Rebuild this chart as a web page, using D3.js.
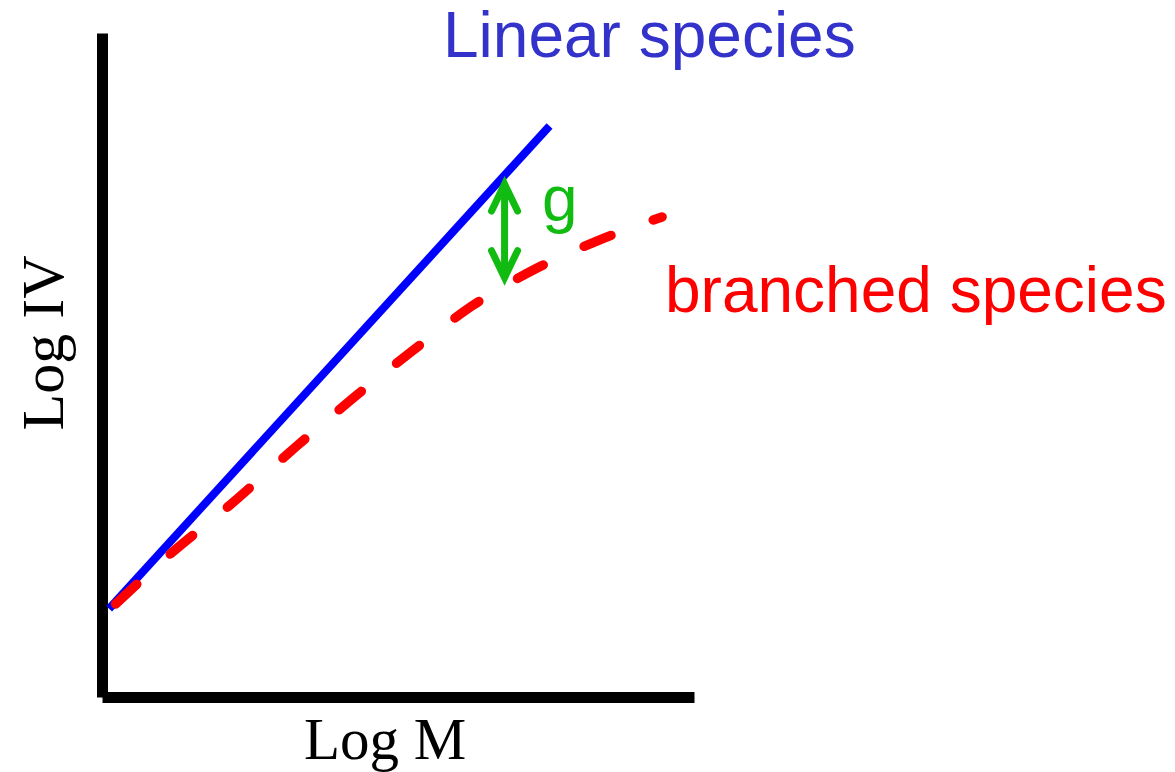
<!DOCTYPE html>
<html>
<head>
<meta charset="utf-8">
<script src="https://cdn.jsdelivr.net/npm/d3@7"></script>
<style>
  html, body { margin: 0; padding: 0; background: #fff; }
  svg { display: block; }
</style>
</head>
<body>
<svg id="chart" width="1175" height="772"></svg>
<script>
// Schematic: log intrinsic viscosity vs log molar mass, linear vs branched
const linearX = [0.12, 7.56];
const linearY = [1.33, 8.60];

const branchedX = [0.23, 1.11, 2.16, 3.29, 4.24, 5.24, 6.25, 7.35, 8.48, 9.46];
const branchedY = [1.40, 2.12, 2.89, 3.78, 4.50, 5.21, 5.89, 6.46, 6.91, 7.23];

// contraction gap marker g (x position, top on linear, bottom on branched)
const gapX = [6.80];
const gapTop = [7.86];
const gapBottom = [6.18];

const labels = {
  linear: "Linear species",
  branched: "branched species",
  gap: "g",
  xAxis: "Log M",
  yAxis: "Log IV"
};

const svg = d3.select("#chart");

const x = d3.scaleLinear().domain([0, 10]).range([102, 694]);
const y = d3.scaleLinear().domain([0, 10]).range([697, 33]);

// axes: bare thick lines, no ticks
const yAxis = svg.append("g")
  .attr("transform", `translate(${x(0)},0)`)
  .call(d3.axisLeft(y).tickValues([]).tickSizeOuter(0));
const xAxis = svg.append("g")
  .attr("transform", `translate(0,${y(0)})`)
  .call(d3.axisBottom(x).tickValues([]).tickSizeOuter(0));
[yAxis, xAxis].forEach(a => a.select(".domain")
  .attr("stroke", "#000")
  .attr("stroke-width", 11)
  .attr("stroke-linecap", "butt"));

const line = d3.line().x(d => x(d[0])).y(d => y(d[1]));

// linear species: straight solid line
svg.append("path")
  .datum(d3.zip(linearX, linearY))
  .attr("d", line)
  .attr("fill", "none")
  .attr("stroke", "#0000ff")
  .attr("stroke-width", 8)
  .attr("stroke-linecap", "butt");

// branched species: bending dashed curve
svg.append("path")
  .datum(d3.zip(branchedX, branchedY))
  .attr("d", line.curve(d3.curveMonotoneX))
  .attr("fill", "none")
  .attr("stroke", "#ff0000")
  .attr("stroke-width", 9.5)
  .attr("stroke-linecap", "round")
  .attr("stroke-dasharray", "29,45");

// double-headed arrow for g; heads pulled in so the points touch the lines
const green = "#11bb11";
const inset = 9;
const ax = x(gapX[0]), at = y(gapTop[0]) + inset, ab = y(gapBottom[0]) - inset;
const arrow = svg.append("g")
  .attr("fill", "none")
  .attr("stroke", green)
  .attr("stroke-width", 7)
  .attr("stroke-linecap", "round")
  .attr("stroke-linejoin", "miter")
  .attr("stroke-miterlimit", 10);
arrow.append("path").attr("d", `M${ax},${at + 3}V${ab - 3}`);
arrow.append("path").attr("d", `M${ax - 13},${at + 27}L${ax},${at}L${ax + 13},${at + 27}`);
arrow.append("path").attr("d", `M${ax - 13},${ab - 27}L${ax},${ab}L${ax + 13},${ab - 27}`);

const sans = "'Liberation Sans', Arial, sans-serif";
const serif = "'Liberation Serif', 'Times New Roman', serif";

svg.append("text")
  .attr("x", 443).attr("y", 57)
  .attr("font-family", sans).attr("font-size", 64)
  .attr("fill", "#3333cc")
  .text(labels.linear);

svg.append("text")
  .attr("x", 665).attr("y", 312)
  .attr("font-family", sans).attr("font-size", 64)
  .attr("fill", "#ff0000")
  .text(labels.branched);

svg.append("text")
  .attr("x", 542).attr("y", 221)
  .attr("font-family", sans).attr("font-size", 64)
  .attr("fill", green)
  .text(labels.gap);

svg.append("text")
  .attr("x", 385).attr("y", 759)
  .attr("text-anchor", "middle")
  .attr("font-family", serif).attr("font-size", 59)
  .attr("fill", "#000")
  .text(labels.xAxis);

svg.append("text")
  .attr("transform", "translate(63,343) rotate(-90)")
  .attr("text-anchor", "middle")
  .attr("font-family", serif).attr("font-size", 60)
  .attr("fill", "#000")
  .text(labels.yAxis);
</script>
</body>
</html>
